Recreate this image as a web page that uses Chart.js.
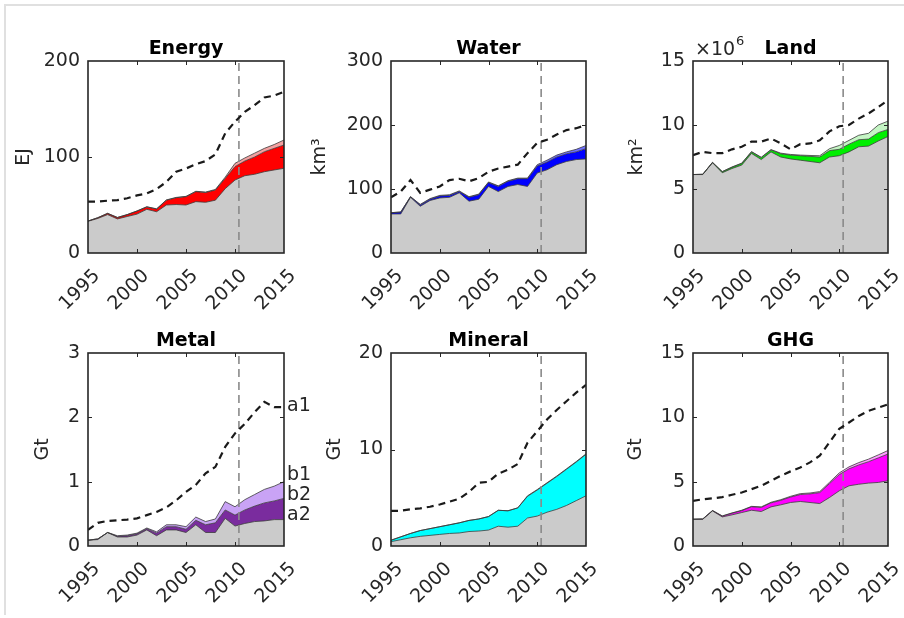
<!DOCTYPE html>
<html>
<head>
<meta charset="utf-8">
<title>Resource use 1995–2015</title>
<script src="https://cdn.jsdelivr.net/npm/chart.js@4/dist/chart.umd.min.js"></script>
<style>
  html, body { margin: 0; padding: 0; background: #fff; }
  body { width: 904px; height: 618px; position: relative; overflow: hidden; font-family: "DejaVu Sans", sans-serif; }
  #frame { position: absolute; left: 4px; top: 4px; right: 0; bottom: 3px;
           border-top: 2px solid #e0e0e0; border-left: 2px solid #e0e0e0; }
  canvas { position: absolute; }
</style>
</head>
<body>
<div id="frame"></div>
<script>
// ---- data -----------------------------------------------------------------
const years = [1995, 1996, 1997, 1998, 1999, 2000, 2001, 2002, 2003, 2004, 2005,
               2006, 2007, 2008, 2009, 2010, 2011, 2012, 2013, 2014, 2015];
const xTicks = [1995, 2000, 2005, 2010, 2015];
const splitYear = [2010.4];

// Energy (EJ)
const energyA2 = [33, 36, 40, 35.5, 38, 40.5, 45.5, 43, 50, 50.5, 50, 53.5, 52.8, 55, 67, 76, 80.5, 82, 84.7, 86.5, 88.2];
const energyB2 = [33.3, 36.8, 41.3, 37, 40, 43.7, 48, 45.8, 55, 57.6, 58.7, 63.9, 63, 65.6, 77.8, 90, 95.8, 100, 105.5, 109, 112.5];
const energyB1 = [33.3, 36.8, 41.3, 37, 40, 43.8, 48.2, 46, 55.3, 57.9, 59, 64.3, 63.5, 66.2, 79, 93.4, 99, 104, 109, 113, 117.7];
const energyA1 = [53.5, 53.5, 54.5, 55, 57, 60, 62, 66.7, 74, 84.7, 88, 92.4, 95.8, 102.8, 124.7, 136.8, 147, 154, 162, 164, 168];
const energyYTicks = [0, 100, 200];

// Water (km3)
const waterA2 = [61, 61, 87, 73, 82, 86, 87, 94, 81, 84, 104, 96, 104, 107, 104, 125, 130, 138, 143, 146, 147];
const waterB2 = [63, 64, 88, 75, 84, 89, 90, 96, 87, 91, 110, 104, 112, 116, 116, 136, 142, 150, 155, 158, 163];
const waterB1 = [63, 64, 88, 76, 85, 90, 91, 97, 88, 92, 111, 105, 113, 117, 117, 138, 145, 153, 158, 162, 168];
const waterA1 = [87, 96, 114, 94, 99, 104, 114, 116, 112, 117, 127, 132, 135, 138, 156, 172, 177, 185, 192, 195, 200];
const waterYTicks = [0, 100, 200, 300];

// Land (10^6 km2)
const landA2 = [6.13, 6.13, 7.05, 6.27, 6.6, 6.87, 7.78, 7.3, 7.9, 7.5, 7.35, 7.25, 7.15, 7.05, 7.5, 7.6, 7.9, 8.3, 8.35, 8.75, 9.1];
const landB2 = [6.13, 6.15, 7.08, 6.35, 6.7, 7.0, 7.9, 7.45, 8.05, 7.75, 7.65, 7.6, 7.55, 7.5, 8.0, 8.1, 8.5, 8.85, 8.9, 9.4, 9.65];
const landB1 = [6.13, 6.15, 7.08, 6.36, 6.72, 7.02, 7.92, 7.48, 8.08, 7.8, 7.7, 7.65, 7.62, 7.6, 8.15, 8.4, 8.8, 9.2, 9.35, 10.0, 10.3];
const landA1 = [7.65, 7.9, 7.8, 7.8, 8.1, 8.3, 8.7, 8.7, 8.95, 8.56, 8.1, 8.5, 8.56, 8.8, 9.5, 9.9, 10.0, 10.5, 10.9, 11.4, 11.95];
const landYTicks = [0, 5, 10, 15];

// Metal (Gt)
const metalA2 = [0.09, 0.10, 0.21, 0.14, 0.14, 0.17, 0.25, 0.16, 0.25, 0.25, 0.21, 0.33, 0.21, 0.21, 0.43, 0.31, 0.35, 0.38, 0.39, 0.41, 0.41];
const metalB2 = [0.09, 0.11, 0.21, 0.15, 0.16, 0.19, 0.27, 0.20, 0.30, 0.30, 0.26, 0.40, 0.33, 0.36, 0.56, 0.48, 0.56, 0.62, 0.67, 0.70, 0.74];
const metalB1 = [0.09, 0.11, 0.21, 0.16, 0.17, 0.20, 0.28, 0.22, 0.33, 0.33, 0.30, 0.45, 0.38, 0.42, 0.69, 0.61, 0.72, 0.80, 0.88, 0.93, 1.00];
const metalA1 = [0.25, 0.36, 0.39, 0.40, 0.41, 0.43, 0.48, 0.53, 0.60, 0.71, 0.84, 0.95, 1.13, 1.23, 1.54, 1.75, 1.90, 2.08, 2.24, 2.16, 2.16];
const metalYTicks = [0, 1, 2, 3];
const metalSeriesNames = ['a1', 'b1', 'b2', 'a2'];
const metalNameY = [2.18, 1.10, 0.79, 0.48];

// Mineral (Gt)
const mineralA2 = [0.45, 0.65, 0.85, 1.0, 1.1, 1.2, 1.3, 1.35, 1.5, 1.55, 1.65, 2.05, 1.95, 2.05, 2.9, 3.1, 3.5, 3.8, 4.2, 4.7, 5.2];
const mineralB2 = [0.6, 0.95, 1.3, 1.6, 1.8, 2.0, 2.2, 2.4, 2.65, 2.8, 3.05, 3.7, 3.65, 3.95, 5.15, 5.8, 6.5, 7.2, 7.95, 8.7, 9.5];
const mineralB1 = [0.6, 0.95, 1.3, 1.6, 1.8, 2.0, 2.2, 2.4, 2.65, 2.8, 3.05, 3.7, 3.65, 3.95, 5.2, 5.85, 6.55, 7.25, 8.0, 8.75, 9.55];
const mineralA1 = [3.65, 3.65, 3.8, 3.9, 4.07, 4.3, 4.6, 4.9, 5.6, 6.55, 6.65, 7.5, 7.9, 8.5, 10.7, 11.9, 13.1, 14.1, 15.0, 15.9, 16.7];
const mineralYTicks = [0, 10, 20];

// GHG (Gt)
const ghgA2 = [2.08, 2.08, 2.73, 2.26, 2.42, 2.6, 2.78, 2.68, 3.04, 3.2, 3.38, 3.46, 3.38, 3.3, 3.77, 4.29, 4.68, 4.8, 4.89, 4.94, 5.07];
const ghgB2 = [2.08, 2.1, 2.75, 2.32, 2.55, 2.75, 3.05, 3.0, 3.35, 3.55, 3.8, 4.0, 4.05, 4.15, 4.85, 5.55, 6.0, 6.3, 6.55, 6.85, 7.15];
const ghgB1 = [2.08, 2.1, 2.76, 2.34, 2.57, 2.78, 3.08, 3.04, 3.4, 3.6, 3.86, 4.07, 4.12, 4.23, 4.95, 5.68, 6.15, 6.48, 6.75, 7.08, 7.42];
const ghgA1 = [3.5, 3.63, 3.7, 3.8, 3.98, 4.16, 4.42, 4.68, 5.07, 5.46, 5.8, 6.1, 6.5, 7.02, 8.06, 9.1, 9.6, 10.1, 10.5, 10.76, 11.0];
const ghgYTicks = [0, 5, 10, 15];

// ---- layout & style -------------------------------------------------------
const FONT = '"DejaVu Sans"';
const INK = '#262626';
const colBox = [[88, 284], [391, 586], [693, 888]];
const rowBox = [[61, 253], [353, 546]];
const rowCanvas = [[0, 318], [300, 618]];
const AXIS_W = 88;

const panels = [
  { title: 'Energy',  unit: 'EJ',  col: 0, row: 0, yTicks: energyYTicks,  a2: energyA2,  b2: energyB2,  b1: energyB1,  a1: energyA1,  c2: '#ff0000', c1: '#f4a0a0', unitPad: 13 },
  { title: 'Water',   unit: 'km³', col: 1, row: 0, yTicks: waterYTicks,   a2: waterA2,   b2: waterB2,   b1: waterB1,   a1: waterA1,   c2: '#0000ff', c1: '#7070ff', unitPad: 5.5 },
  { title: 'Land',    unit: 'km²', col: 2, row: 0, yTicks: landYTicks,    a2: landA2,    b2: landB2,    b1: landB1,    a1: landA1,    c2: '#00ee00', c1: '#c4f5c4', unitPad: 21 },
  { title: 'Metal',   unit: 'Gt',  col: 0, row: 1, yTicks: metalYTicks,   a2: metalA2,   b2: metalB2,   b1: metalB1,   a1: metalA1,   c2: '#7a2c9e', c1: '#c9a3f5', unitPad: 32, names: metalSeriesNames, nameY: metalNameY },
  { title: 'Mineral', unit: 'Gt',  col: 1, row: 1, yTicks: mineralYTicks, a2: mineralA2, b2: mineralB2, b1: mineralB1, a1: mineralA1, c2: '#00ffff', c1: '#90ffff', unitPad: 21 },
  { title: 'GHG',     unit: 'Gt',  col: 2, row: 1, yTicks: ghgYTicks,     a2: ghgA2,     b2: ghgB2,     b1: ghgB1,     a1: ghgA1,     c2: '#ff00ff', c1: '#ff9cff', unitPad: 19.5 }
];
panels[2].exponent = '6';

// Axes box, inward tick marks, panel title and extra annotations
const panelFrame = {
  id: 'panelFrame',
  afterDatasetsDraw(chart, args, opts) {
    const { ctx, chartArea: a, scales: { x, y } } = chart;
    ctx.save();
    const tl = 4;
    ctx.strokeStyle = INK;
    ctx.lineWidth = 1;
    ctx.beginPath();
    x.ticks.forEach(t => {
      const px = Math.round(x.getPixelForValue(t.value)) + 0.5;
      if (px <= a.left + 2 || px >= a.right - 2) return;
      ctx.moveTo(px, a.bottom); ctx.lineTo(px, a.bottom - tl);
      ctx.moveTo(px, a.top); ctx.lineTo(px, a.top + tl);
    });
    y.ticks.forEach(t => {
      const py = Math.round(y.getPixelForValue(t.value)) + 0.5;
      if (py <= a.top + 2 || py >= a.bottom - 2) return;
      ctx.moveTo(a.left, py); ctx.lineTo(a.left + tl, py);
      ctx.moveTo(a.right, py); ctx.lineTo(a.right - tl, py);
    });
    ctx.stroke();
    ctx.lineWidth = 1.6;
    ctx.strokeRect(a.left, a.top, a.right - a.left, a.bottom - a.top);

    ctx.fillStyle = '#000';
    ctx.font = 'bold 19px ' + FONT;
    ctx.textAlign = 'center';
    ctx.textBaseline = 'alphabetic';
    ctx.fillText(opts.title, (a.left + a.right) / 2, a.top - 7.5);

    if (opts.exponent) {
      ctx.fillStyle = INK;
      ctx.textAlign = 'left';
      ctx.font = '19px ' + FONT;
      const base = '×10';
      ctx.fillText(base, a.left + 2, a.top - 6);
      const w = ctx.measureText(base).width;
      ctx.font = '13px ' + FONT;
      ctx.fillText(opts.exponent, a.left + 2 + w + 1, a.top - 16);
    }
    if (opts.names) {
      ctx.fillStyle = INK;
      ctx.font = '19px ' + FONT;
      ctx.textAlign = 'left';
      ctx.textBaseline = 'middle';
      opts.names.forEach((n, i) => ctx.fillText(n, a.right + 3, y.getPixelForValue(opts.nameY[i])));
    }
    ctx.restore();
  }
};

const pts = vals => years.map((yr, i) => ({ x: yr, y: vals[i] }));

panels.forEach(p => {
  const [pl, pr] = colBox[p.col];
  const [pt, pb] = rowBox[p.row];
  const [cy0, cy1] = rowCanvas[p.row];
  const rightPad = p.col === 0 ? 34 : (p.col === 1 ? 16 : 904 - pr);
  const cx0 = pl - AXIS_W;
  const cw = pr + rightPad - cx0;
  const ch = cy1 - cy0;
  const yMax = p.yTicks[p.yTicks.length - 1];

  const cv = document.createElement('canvas');
  cv.width = cw; cv.height = ch;
  cv.style.left = cx0 + 'px'; cv.style.top = cy0 + 'px';
  cv.style.width = cw + 'px'; cv.style.height = ch + 'px';
  document.body.appendChild(cv);

  const tickFont = { family: FONT, size: 19 };
  new Chart(cv, {
    type: 'line',
    data: {
      datasets: [
        { data: pts(p.a1), borderColor: '#1a1a1a', borderWidth: 2.2, borderDash: [7, 5], fill: false },
        { data: [{ x: splitYear[0], y: 0 }, { x: splitYear[0], y: yMax }], borderColor: '#8a8a8a', borderWidth: 1.6, borderDash: [8, 5], fill: false },
        { data: pts(p.b1), borderColor: '#3a3a3a', borderWidth: 0.8, backgroundColor: p.c1, fill: { target: 3 } },
        { data: pts(p.b2), borderColor: '#3a3a3a', borderWidth: 0.8, backgroundColor: p.c2, fill: { target: 4 } },
        { data: pts(p.a2), borderColor: '#3a3a3a', borderWidth: 0.8, backgroundColor: '#cbcbcb', fill: 'origin' }
      ]
    },
    options: {
      responsive: false,
      animation: false,
      events: [],
      elements: { point: { radius: 0 }, line: { tension: 0 } },
      layout: { padding: { left: 0, top: pt - cy0, right: rightPad, bottom: 0 } },
      plugins: {
        legend: { display: false },
        tooltip: { enabled: false },
        filler: { drawTime: 'beforeDatasetsDraw' },
        panelFrame: { title: p.title, exponent: p.exponent, names: p.names, nameY: p.nameY }
      },
      scales: {
        x: {
          type: 'linear', min: years[0], max: years[years.length - 1],
          grid: { display: false, drawTicks: false },
          border: { display: false },
          afterBuildTicks: s => { s.ticks = xTicks.map(v => ({ value: v })); },
          afterFit: s => { s.height = cy1 - pb; s.paddingLeft = 0; s.paddingRight = 0; },
          ticks: { autoSkip: false, minRotation: 45, maxRotation: 45, padding: 12, labelOffset: 9,
                   color: INK, font: tickFont, callback: v => String(v) }
        },
        y: {
          min: 0, max: yMax,
          grid: { display: false, drawTicks: false },
          border: { display: false },
          afterBuildTicks: s => { s.ticks = p.yTicks.map(v => ({ value: v })); },
          afterFit: s => { s.width = AXIS_W; s.paddingTop = 0; s.paddingBottom = 0; },
          ticks: { padding: 8, color: INK, font: tickFont, callback: v => String(v) },
          title: { display: true, text: p.unit, color: INK, font: tickFont, padding: { top: p.unitPad, bottom: 0 } }
        }
      }
    },
    plugins: [panelFrame]
  });
});
</script>
</body>
</html>
